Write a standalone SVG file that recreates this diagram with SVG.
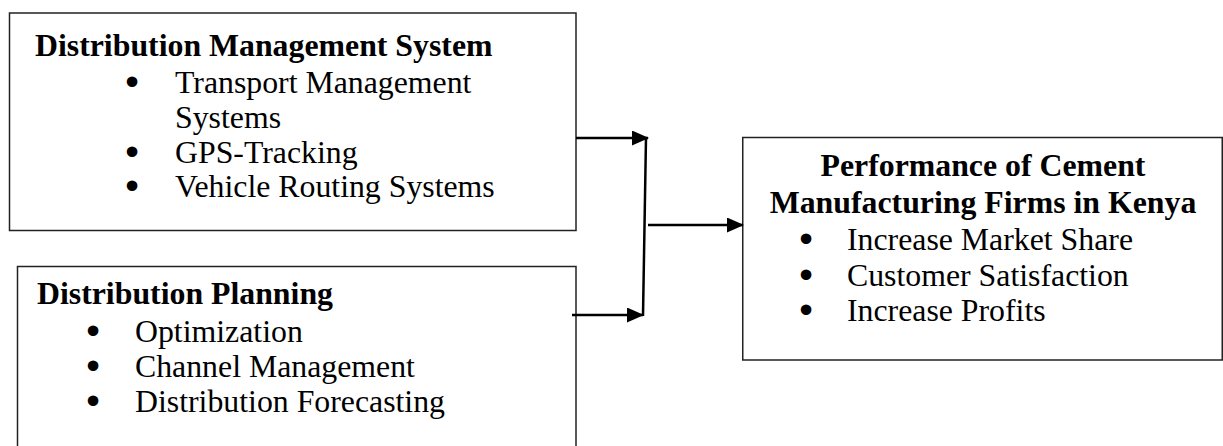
<svg xmlns="http://www.w3.org/2000/svg" width="1223" height="446" viewBox="0 0 1223 446">
<defs>
<style>
.box{fill:#fff;stroke:#222;stroke-width:1.5}
.t{font-family:"Liberation Serif","Times New Roman",serif;font-size:31.8px;fill:#000}
.b{font-weight:bold}
.bu{text-anchor:middle;stroke:#000;stroke-width:3;stroke-linejoin:round}
.con{stroke:#000;stroke-width:2.5;fill:none}
</style>
<marker id="ah" markerWidth="17" markerHeight="15" refX="16" refY="7.5" orient="auto" markerUnits="userSpaceOnUse">
<path d="M0,0 L17,7.5 L0,15 Z" fill="#000"/>
</marker>
</defs>
<rect width="1223" height="446" fill="#fff"/>
<g id="dms">
<rect class="box" x="9.5" y="13" width="566.5" height="217.5"/>
<text class="t b" x="35" y="56">Distribution Management System</text>
<text class="t" y="93"><tspan class="bu" x="132">•</tspan><tspan x="175">Transport Management</tspan></text>
<text class="t" x="175" y="128">Systems</text>
<text class="t" y="162.5"><tspan class="bu" x="132">•</tspan><tspan x="175">GPS-Tracking</tspan></text>
<text class="t" y="197"><tspan class="bu" x="132">•</tspan><tspan x="175">Vehicle Routing Systems</tspan></text>
</g>
<g id="dp">
<rect class="box" x="17.5" y="266.5" width="558.5" height="190"/>
<text class="t b" x="37" y="304">Distribution Planning</text>
<text class="t" y="342"><tspan class="bu" x="93">•</tspan><tspan x="135">Optimization</tspan></text>
<text class="t" y="377"><tspan class="bu" x="93">•</tspan><tspan x="135">Channel Management</tspan></text>
<text class="t" y="412"><tspan class="bu" x="93">•</tspan><tspan x="135">Distribution Forecasting</tspan></text>
</g>
<g id="perf">
<rect class="box" x="742.75" y="137.5" width="479.5" height="222.5"/>
<text class="t b" x="983" y="176" text-anchor="middle">Performance of Cement</text>
<text class="t b" x="983" y="213" text-anchor="middle">Manufacturing Firms in Kenya</text>
<text class="t" y="250"><tspan class="bu" x="806">•</tspan><tspan x="847">Increase Market Share</tspan></text>
<text class="t" y="286"><tspan class="bu" x="806">•</tspan><tspan x="847">Customer Satisfaction</tspan></text>
<text class="t" y="321"><tspan class="bu" x="806">•</tspan><tspan x="847">Increase Profits</tspan></text>
</g>
<g id="connectors">
<line class="con" x1="576" y1="138" x2="648" y2="138" marker-end="url(#ah)"/>
<line class="con" x1="572" y1="315" x2="643" y2="315" marker-end="url(#ah)"/>
<line class="con" x1="646" y1="137" x2="643" y2="316"/>
<line class="con" x1="648" y1="225" x2="743" y2="225" marker-end="url(#ah)"/>
</g>
</svg>
